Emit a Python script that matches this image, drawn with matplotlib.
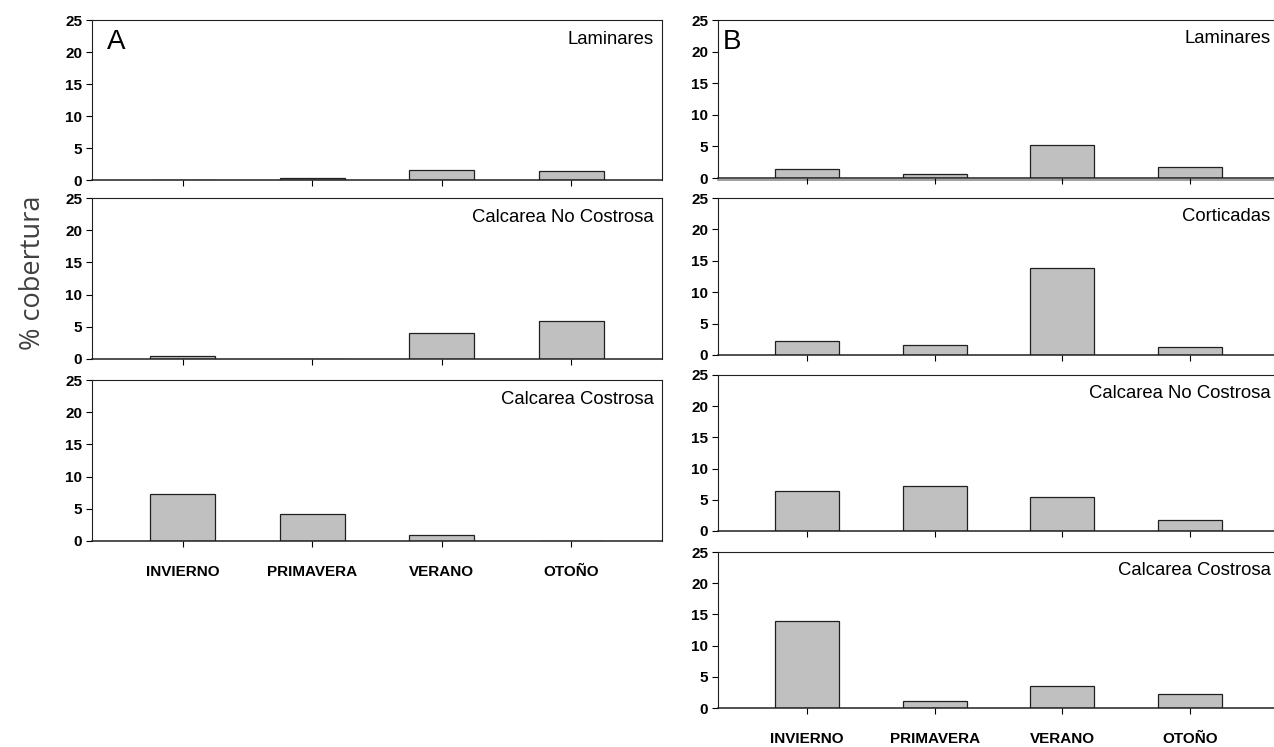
import numpy as np
import matplotlib
matplotlib.use("Agg")
import matplotlib.pyplot as plt

# ---- data ----
seasons = ['INVIERNO', 'PRIMAVERA', 'VERANO', 'OTOÑO']

a_titles = ['Laminares', 'Calcarea No Costrosa', 'Calcarea Costrosa']
a_laminares = [0.0, 0.26, 1.55, 1.4]
a_no_costrosa = [0.5, 0.0, 4.1, 5.9]
a_costrosa = [7.3, 4.2, 0.9, 0.0]

b_titles = ['Laminares', 'Corticadas', 'Calcarea No Costrosa', 'Calcarea Costrosa']
b_laminares = [1.5, 0.64, 5.3, 1.8]
b_corticadas = [2.3, 1.6, 13.9, 1.2]
b_no_costrosa = [6.4, 7.2, 5.4, 1.7]
b_costrosa = [13.9, 1.1, 3.5, 2.3]

yticks = [0, 5, 10, 15, 20, 25]

# ---- style ----
W, H = 1274, 747
tick_font = ['Liberation Sans', 'DejaVu Sans']
title_font = ['Liberation Sans', 'DejaVu Sans']


def px_axes(fig, left, top, right, bottom):
    return fig.add_axes([left / W, (H - bottom) / H, (right - left) / W, (bottom - top) / H])


def draw_panel(ax, values, title, show_xlabels):
    x = np.arange(len(seasons))
    ax.bar(x, values, width=0.5, color='#c0c0c0', edgecolor='#202020', linewidth=0.9, zorder=2)
    ax.set_xlim(-0.7, 3.7)
    ax.set_ylim(0, 25)
    ax.set_yticks(yticks)
    ax.set_yticklabels([str(t) for t in yticks], family=tick_font, weight='bold', fontsize=11)
    ax.set_xticks(x)
    if show_xlabels:
        ax.set_xticklabels(seasons, family=tick_font, weight='bold', fontsize=11)
    else:
        ax.set_xticklabels([])
    ax.tick_params(axis='y', direction='out', length=4, width=0.8, pad=3)
    ax.tick_params(axis='x', direction='out', length=4.5, width=0.8, pad=13)
    for s in ax.spines.values():
        s.set_linewidth(0.8)
        s.set_color('#202020')
    ax.spines['bottom'].set_linewidth(1.1)
    ax.annotate(title, xy=(1, 0.88), xycoords='axes fraction', xytext=(-6, 0),
                textcoords='offset points', ha='right', va='center',
                family=title_font, fontsize=13.3)


fig = plt.figure(figsize=(W / 100, H / 100), dpi=100)

# panel A
a_rows = [(20, 180), (198, 359), (380, 541)]
a_data = [a_laminares, a_no_costrosa, a_costrosa]
for i, ((top, bottom), vals, title) in enumerate(zip(a_rows, a_data, a_titles)):
    ax = px_axes(fig, 92, top, 662, bottom)
    draw_panel(ax, vals, title, i == len(a_rows) - 1)
    if i == 0:
        ax.text(0.026, 0.86, 'A', transform=ax.transAxes, ha='left', va='center',
                family=title_font, fontsize=20)

# panel B (frame runs past the right edge of the figure)
b_rows = [(20, 178), (198, 355), (375, 531), (552, 708)]
b_data = [b_laminares, b_corticadas, b_no_costrosa, b_costrosa]
for i, ((top, bottom), vals, title) in enumerate(zip(b_rows, b_data, b_titles)):
    ax = px_axes(fig, 718, top, 1279, bottom)
    draw_panel(ax, vals, title, i == len(b_rows) - 1)
    if i == 0:
        ax.text(0.008, 0.86, 'B', transform=ax.transAxes, ha='left', va='center',
                family=title_font, fontsize=20)
        ax.axhline(-0.3, color='#909090', linewidth=1.2, clip_on=False, zorder=1)

fig.text(33 / W, (H - 273) / H, '% cobertura', rotation=90, ha='center', va='center',
         family=['Open Sans', 'DejaVu Sans'], fontsize=19.5, color='#404040')

fig.savefig('out.png', dpi=100)
